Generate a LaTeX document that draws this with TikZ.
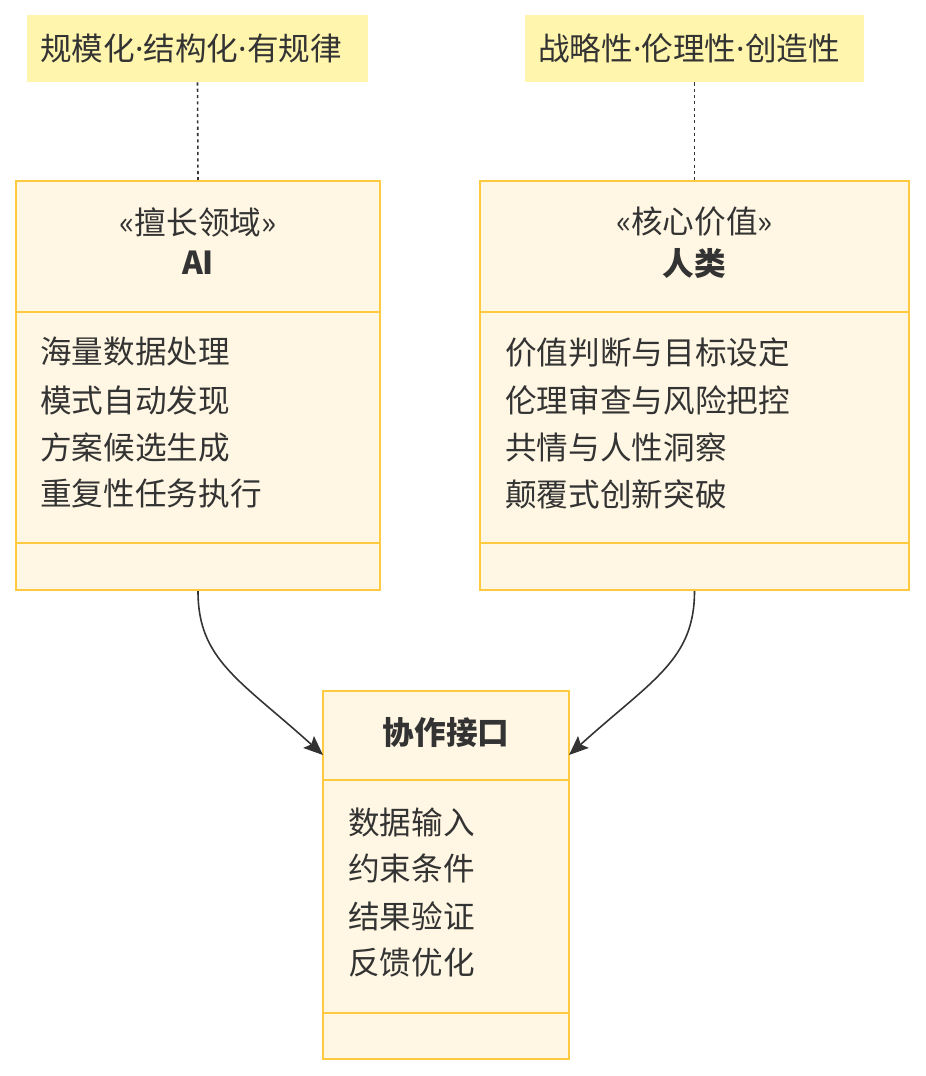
\documentclass[tikz,border=0pt]{standalone}
\usepackage{fontspec}
\setmainfont{Noto Sans CJK SC}
\newfontfamily\dotfont{Noto Sans}
\usepackage{tikz}
\usetikzlibrary{fit, arrows.meta}

\definecolor{boxfill}{HTML}{FFF7E3}
\definecolor{boxline}{HTML}{FFC940}
\definecolor{notefill}{HTML}{FFF5AD}
\definecolor{inktext}{HTML}{333333}

\newcommand{\middot}{{\dotfont ·}}

\begin{document}
\begin{tikzpicture}[x=0.02cm, y=-0.02cm,
  every node/.style={text=inktext, font=\fontsize{18pt}{22pt}\selectfont},
  classbox/.style={draw=boxline, fill=boxfill, line width=1.3pt, inner sep=0pt},
  notebox/.style={fill=notefill, inner sep=0pt},
  divider/.style={draw=boxline, line width=1.3pt},
  member/.style={anchor=west, inner sep=0pt},
  title/.style={inner sep=0pt, font=\fontsize{18pt}{22pt}\selectfont\bfseries},
  link/.style={draw=inktext, line width=0.9pt, -{Stealth[length=11pt, width=9pt, inset=2pt]}},
  notelink/.style={draw=inktext, line width=0.9pt, dash pattern=on 1.8pt off 1.8pt}]

  \useasboundingbox (0, 0) rectangle (926, 1076);

  % notes
  \node[notebox, fit={(27, 15) (368, 82)}] (noteai) {};
  \node[member] (noteaitext) at (40, 48) {规模化\middot 结构化\middot 有规律};
  \node[notebox, fit={(525, 15) (864, 82)}] (notehuman) {};
  \node[member] (notehumantext) at (538, 48) {战略性\middot 伦理性\middot 创造性};

  % AI
  \node[classbox, fit={(16, 181) (380, 590)}] (ai) {};
  \draw[divider] (16, 312) -- (380, 312);
  \draw[divider] (16, 543) -- (380, 543);
  \node[inner sep=0pt] (aistereo) at (198, 222) {«擅长领域»};
  \node[title] (aititle) at (198, 263) {AI};
  \node[member] (aione) at (40, 352) {海量数据处理};
  \node[member] (aitwo) at (40, 400) {模式自动发现};
  \node[member] (aithree) at (40, 447) {方案候选生成};
  \node[member] (aifour) at (40, 494) {重复性任务执行};

  % human
  \node[classbox, fit={(480, 181) (909, 590)}] (human) {};
  \draw[divider] (480, 312) -- (909, 312);
  \draw[divider] (480, 543) -- (909, 543);
  \node[inner sep=0pt] (humanstereo) at (694.5, 222) {«核心价值»};
  \node[title] (humantitle) at (694.5, 263) {人类};
  \node[member] (humanone) at (505, 352) {价值判断与目标设定};
  \node[member] (humantwo) at (505, 400) {伦理审查与风险把控};
  \node[member] (humanthree) at (505, 447) {共情与人性洞察};
  \node[member] (humanfour) at (505, 494) {颠覆式创新突破};

  % interface
  \node[classbox, fit={(323, 691) (569, 1059)}] (iface) {};
  \draw[divider] (323, 780) -- (569, 780);
  \draw[divider] (323, 1013) -- (569, 1013);
  \node[title] (ifacetitle) at (446, 733) {协作接口};
  \node[member] (ifaceone) at (348, 822) {数据输入};
  \node[member] (ifacetwo) at (348, 868) {约束条件};
  \node[member] (ifacethree) at (348, 916) {结果验证};
  \node[member] (ifacefour) at (348, 963) {反馈优化};

  \coordinate (ifaceleft) at (323, 755);
  \coordinate (ifaceright) at (569, 755);

  % links
  \draw[notelink] (noteai.south) -- (ai.north);
  \draw[notelink] (notehuman.south) -- (human.north);
  \draw[link] (ai.south) .. controls (198, 660) and (240, 680) .. (ifaceleft);
  \draw[link] (human.south) .. controls (694.5, 660) and (652, 680) .. (ifaceright);

\end{tikzpicture}
\end{document}
